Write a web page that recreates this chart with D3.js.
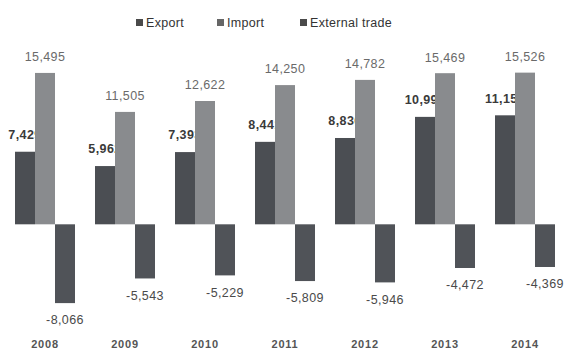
<!DOCTYPE html>
<html>
<head>
<meta charset="utf-8">
<script src="https://cdn.jsdelivr.net/npm/d3@7"></script>
<style>
  html, body { margin: 0; padding: 0; background: #fff; }
  svg { display: block; font-family: "Liberation Sans", Arial, sans-serif; }
</style>
</head>
<body>
<svg id="chart" width="565" height="352"></svg>
<script>
// Trade figures per year
const years = ["2008", "2009", "2010", "2011", "2012", "2013", "2014"];
const exportValues = [7429, 5962, 7393, 8441, 8836, 10997, 11157];
const importValues = [15495, 11505, 12622, 14250, 14782, 15469, 15526];
const tradeBalance = [-8066, -5543, -5229, -5809, -5946, -4472, -4369];
const seriesNames = ["Export", "Import", "External trade"];

const colors = {
  "Export": "#4b4e53",
  "Import": "#898b8e",
  "External trade": "#505358"
};

const svg = d3.select("#chart");
// thousands separator with a plain hyphen for negatives
const fmt = v => d3.format(",")(v).replace("\u2212", "-");

const x0 = d3.scaleBand()
  .domain(years)
  .range([5, 565])
  .paddingInner(0.25)
  .paddingOuter(0.125);

const x1 = d3.scaleBand()
  .domain(seriesNames)
  .range([0, x0.bandwidth()])
  .padding(0);

const y = d3.scaleLinear()
  .domain([-10000, 16000])
  .range([322, 68]);

const rows = years.map((yr, i) => ({
  year: yr,
  "Export": exportValues[i],
  "Import": importValues[i],
  "External trade": tradeBalance[i]
}));

function barX(d, s) { return x0(d.year) + x1(s); }
function barTop(v) { return Math.min(y(v), y(0)); }
function barH(v) { return Math.abs(y(v) - y(0)); }

// Export bars and their labels (the import bars overlap the label tails)
const g = svg.append("g");

g.selectAll("rect.export").data(rows).join("rect")
  .attr("class", "export")
  .attr("x", d => barX(d, "Export"))
  .attr("y", d => barTop(d["Export"]))
  .attr("width", x1.bandwidth())
  .attr("height", d => barH(d["Export"]))
  .attr("fill", colors["Export"]);

g.selectAll("text.export").data(rows).join("text")
  .attr("class", "export")
  .attr("x", d => barX(d, "Export") + x1.bandwidth() / 2)
  .attr("y", d => y(d["Export"]) - 17)
  .attr("dy", "0.35em")
  .attr("text-anchor", "middle")
  .attr("font-size", 12.5)
  .attr("font-weight", "bold")
  .attr("letter-spacing", 0.4)
  .attr("fill", "#3a3a3a")
  .text(d => fmt(d["Export"]));

g.selectAll("rect.import").data(rows).join("rect")
  .attr("class", "import")
  .attr("x", d => barX(d, "Import"))
  .attr("y", d => barTop(d["Import"]))
  .attr("width", x1.bandwidth())
  .attr("height", d => barH(d["Import"]))
  .attr("fill", colors["Import"]);

g.selectAll("text.import").data(rows).join("text")
  .attr("class", "import")
  .attr("x", d => barX(d, "Import") + x1.bandwidth() / 2)
  .attr("y", d => y(d["Import"]) - 16)
  .attr("dy", "0.35em")
  .attr("text-anchor", "middle")
  .attr("font-size", 12.5)
  .attr("letter-spacing", 0.4)
  .attr("fill", "#6a6a6a")
  .text(d => fmt(d["Import"]));

g.selectAll("rect.balance").data(rows).join("rect")
  .attr("class", "balance")
  .attr("x", d => barX(d, "External trade"))
  .attr("y", d => barTop(d["External trade"]))
  .attr("width", x1.bandwidth())
  .attr("height", d => barH(d["External trade"]))
  .attr("fill", colors["External trade"]);

g.selectAll("text.balance").data(rows).join("text")
  .attr("class", "balance")
  .attr("x", d => barX(d, "External trade") + x1.bandwidth() / 2)
  .attr("y", d => y(d["External trade"]) + 17)
  .attr("dy", "0.35em")
  .attr("text-anchor", "middle")
  .attr("font-size", 12.5)
  .attr("letter-spacing", 0.4)
  .attr("fill", "#4a4a4a")
  .text(d => fmt(d["External trade"]));

// Year labels along the bottom
const xAxis = d3.axisBottom(x0).tickSize(0).tickPadding(0);
const ax = svg.append("g")
  .attr("transform", "translate(0,340)")
  .call(xAxis);
ax.select(".domain").remove();
ax.selectAll("text")
  .attr("font-family", "'Liberation Sans', Arial, sans-serif")
  .attr("font-size", 11)
  .attr("font-weight", "bold")
  .attr("letter-spacing", 0.8)
  .attr("fill", "#555");

// Legend
const legendX = [136, 217, 300];
const legend = svg.append("g");
seriesNames.forEach((s, i) => {
  legend.append("rect")
    .attr("x", legendX[i])
    .attr("y", 19)
    .attr("width", 7)
    .attr("height", 7)
    .attr("fill", i === 1 ? "#666" : "#4a4a4a");
  legend.append("text")
    .attr("x", legendX[i] + 10)
    .attr("y", 23)
    .attr("dy", "0.35em")
    .attr("font-size", 12.5)
    .attr("letter-spacing", 0.3)
    .attr("fill", "#333")
    .text(s);
});
</script>
</body>
</html>
